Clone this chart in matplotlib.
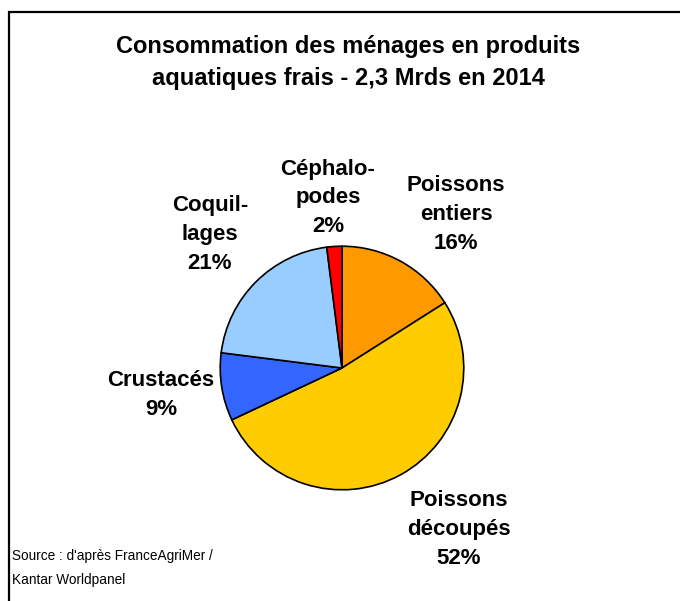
import matplotlib.pyplot as plt
from matplotlib.patches import Rectangle

plt.rcParams['font.family'] = ['Liberation Sans', 'DejaVu Sans']

# parts, clockwise from the top
categories = ['Poissons\nentiers', 'Poissons\ndécoupés', 'Crustacés', 'Coquil-\nlages', 'Céphalo-\npodes']
values = [16, 52, 9, 21, 2]
colors = ['#FF9900', '#FFCC00', '#3366FF', '#99CCFF', '#FF0000']
# label centres in pixels (x, y of the first line)
label_pos = [(456, 186), (459, 501), (161, 381), (210, 206), (328, 169)]

W, H = 680, 601
fig = plt.figure(figsize=(W / 100, H / 100), dpi=100)

def fx(x):
    return x / W

def fy(y):
    return 1 - y / H

def lines(text, x, y, step, **kw):
    # one text per line so the line pitch matches the original
    for i, s in enumerate(text.split('\n')):
        fig.text(fx(x), fy(y + i * step), s, va='center', **kw)

# frame (clipped at the right and bottom in the original)
fig.patches.append(Rectangle((fx(9), fy(700)), fx(800), fy(12) - fy(700),
                             transform=fig.transFigure, fill=False,
                             edgecolor='black', linewidth=1.6))

cx, cy, r = 342, 368, 123
ax = fig.add_axes([fx(cx - r), fy(cy + r), 2 * r / W, 2 * r / H])
ax.pie(values, colors=colors, startangle=90, counterclock=False,
       wedgeprops=dict(edgecolor='black', linewidth=1.2))
ax.set_xlim(-1.01, 1.01)
ax.set_ylim(-1.01, 1.01)
ax.axis('off')

lines('Consommation des ménages en produits\naquatiques frais - 2,3 Mrds en 2014',
      348, 47, 31, ha='center', fontsize=17, fontweight='bold')

for cat, v, (x, y) in zip(categories, values, label_pos):
    lines(f'{cat}\n{v}%', x, y, 28.8, ha='center', fontsize=16, fontweight='bold')

lines("Source : d'après FranceAgriMer /\nKantar Worldpanel", 12, 556, 24,
      ha='left', fontsize=9.8)

fig.savefig('out.png', dpi=100)
